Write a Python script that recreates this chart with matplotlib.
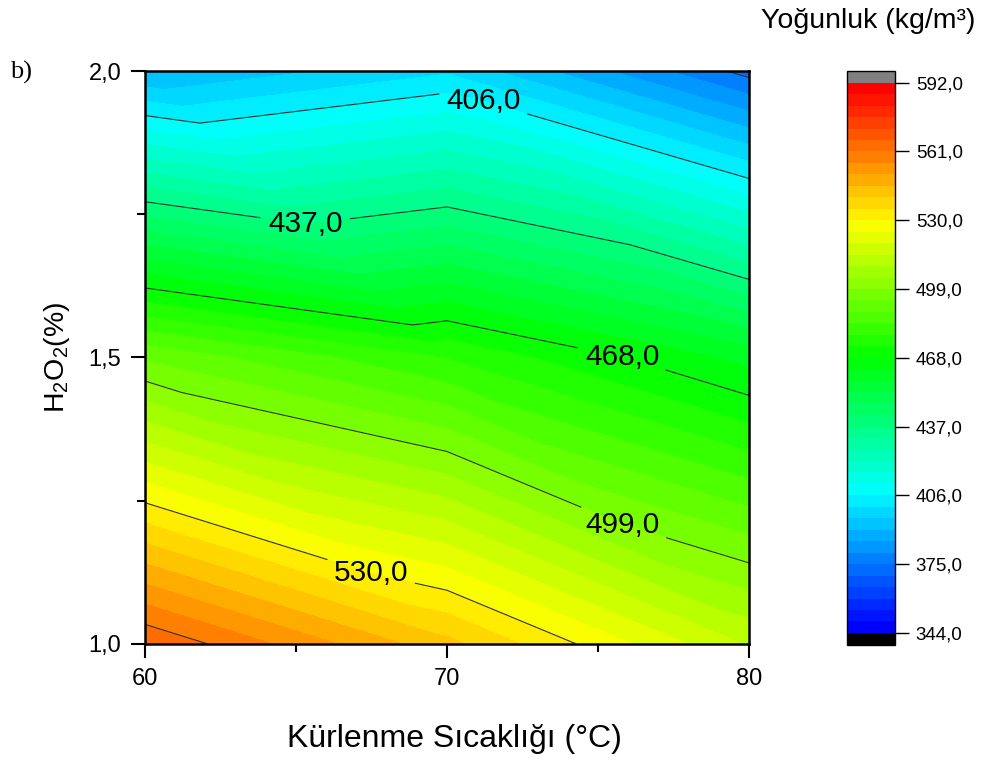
import numpy as np
import matplotlib.pyplot as plt
import matplotlib.tri as mtri
from matplotlib.colors import LinearSegmentedColormap, ListedColormap, BoundaryNorm
from matplotlib.ticker import FuncFormatter, MultipleLocator

plt.rcParams['font.family'] = ['Liberation Sans', 'DejaVu Sans']
plt.rcParams['mathtext.fontset'] = 'custom'
plt.rcParams['mathtext.rm'] = 'Liberation Sans'
plt.rcParams['mathtext.it'] = 'Liberation Sans:italic'

# ölçüm noktaları: sıcaklık (°C) x H2O2 (%)
sicaklik = [60, 70, 80]
h2o2 = [1.0, 1.5, 2.0]
# yoğunluk (kg/m3), satırlar h2o2, sütunlar sıcaklık
yogunluk = [[566, 542, 514],
            [493, 478, 461],
            [390, 400, 373]]

cb_ticks = [344, 375, 406, 437, 468, 499, 530, 561, 592]
etiketli = [406, 437, 468, 499, 530]
etiketsiz = [375, 561]


def virgul(v, pos=None):
    return f"{v:.1f}".replace('.', ',')


X, Y = np.meshgrid(sicaklik, h2o2)
z = np.array(yogunluk, dtype=float).ravel()

# her hücre sol-üst / sağ-alt köşegeniyle iki üçgene bölünür
nx, ny = len(sicaklik), len(h2o2)
tris = []
for j in range(ny - 1):
    for i in range(nx - 1):
        bl = j * nx + i
        br = bl + 1
        tl = bl + nx
        tr = tl + 1
        tris.append([bl, br, tl])
        tris.append([tl, br, tr])
tri = mtri.Triangulation(X.ravel(), Y.ravel(), tris)

# 48 kademeli gökkuşağı renk skalası
levels = np.linspace(cb_ticks[0], cb_ticks[-1], 49)
base = LinearSegmentedColormap.from_list(
    'rb', [(0, 0, 1), (0, 1, 1), (0, 1, 0), (1, 1, 0), (1, 0, 0)])
cmap = ListedColormap([base(k / 47) for k in range(48)])
cmap.set_over('#808080')
cmap.set_under('black')
norm = BoundaryNorm(levels, cmap.N)

fig = plt.figure(figsize=(9.89, 7.67), dpi=100)
ax = fig.add_axes([0.1466, 0.1604, 0.6107, 0.747])

cf = ax.tricontourf(tri, z, levels=levels, cmap=cmap, norm=norm, extend='both')
ax.tricontour(tri, z, levels=etiketsiz, colors='#333333', linewidths=0.8)
cs = ax.tricontour(tri, z, levels=etiketli, colors='#333333', linewidths=0.8)
lbl = ax.clabel(cs, fmt=virgul, fontsize=21.5, inline=True, inline_spacing=8, colors='black',
                manual=[(71.2, 1.945), (65.3, 1.732), (75.8, 1.50), (75.8, 1.205), (67.5, 1.128)])
for t in lbl:
    t.set_rotation(0)

ax.set_xlim(60, 80)
ax.set_ylim(1.0, 2.0)
ax.xaxis.set_major_locator(MultipleLocator(10))
ax.xaxis.set_minor_locator(MultipleLocator(5))
ax.yaxis.set_major_locator(MultipleLocator(0.5))
ax.yaxis.set_minor_locator(MultipleLocator(0.25))
ax.yaxis.set_major_formatter(FuncFormatter(virgul))
ax.tick_params(which='major', direction='out', length=10, width=1.5, labelsize=17, pad=7)
ax.tick_params(which='minor', direction='out', length=6, width=1.5)
for s in ax.spines.values():
    s.set_linewidth(1.8)

ax.set_xlabel('Kürlenme Sıcaklığı (°C)', fontsize=23)
ax.xaxis.set_label_coords(0.512, -0.14)
ax.set_ylabel(r'H$_2$O$_2$(%)', fontsize=20.5, labelpad=12)

cax = fig.add_axes([0.8564, 0.159, 0.0485, 0.749])
cb = fig.colorbar(cf, cax=cax, extend='both', extendrect=True, extendfrac=0.022,
                  ticks=cb_ticks, format=FuncFormatter(virgul))
cb.outline.set_linewidth(1)
cax.minorticks_off()
cax.tick_params(direction='out', length=10, width=1, labelsize=13.5, pad=5)

fig.text(0.986, 0.9635, 'Yoğunluk (kg/m³)', ha='right', va='baseline', fontsize=20.5)
fig.text(0.010, 0.897, 'b)', ha='left', va='baseline', fontsize=19,
         family=['Liberation Serif', 'DejaVu Serif'])

fig.savefig('out.png', dpi=100)
